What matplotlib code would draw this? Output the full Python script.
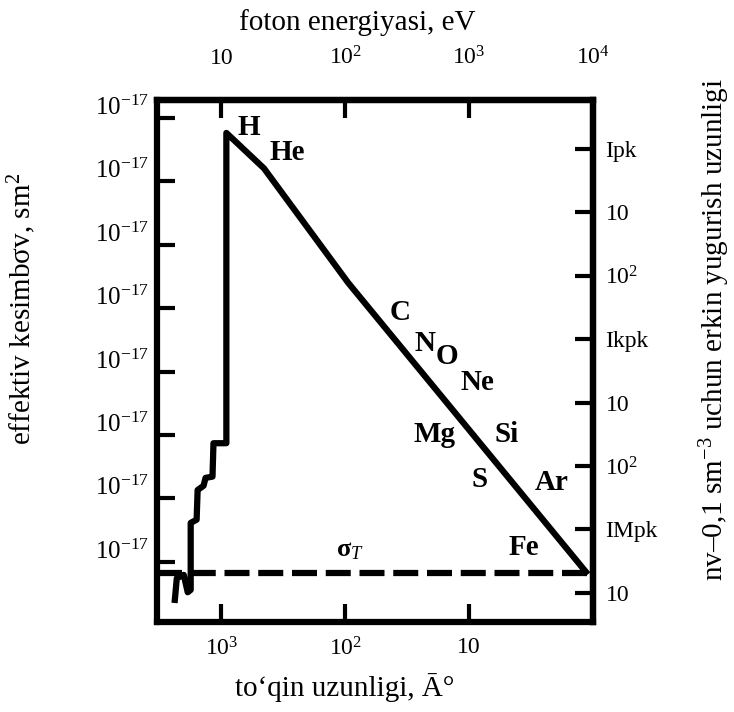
import numpy as np
import matplotlib
matplotlib.use("Agg")
import matplotlib.pyplot as plt
from matplotlib.ticker import FixedLocator, NullLocator
from matplotlib.transforms import ScaledTranslation

plt.rcParams['font.family'] = ['Liberation Serif', 'DejaVu Serif']
plt.rcParams['mathtext.fontset'] = 'custom'
plt.rcParams['mathtext.rm'] = 'Liberation Serif'
plt.rcParams['mathtext.it'] = 'Liberation Serif:italic'
plt.rcParams['mathtext.bf'] = 'Liberation Serif:bold'

# effective cross section vs wavelength
wavelength = [2377, 2291, 2014, 1871, 1770, 1770, 1585, 1556, 1393, 1343,
              1180, 1159, 912, 912, 453, 94.6, 1.14]
sigma = [2.5e-25, 5.5e-25, 6.2e-25, 3.3e-25, 3.6e-25, 4.1e-24, 4.6e-24,
         1.35e-23, 1.58e-23, 2.1e-23, 2.2e-23, 7.4e-23, 7.4e-23, 5.8e-18,
         1.6e-18, 2.5e-20, 6.9e-25]

sigma_T = 6.65e-25

elements = ['H', 'He', 'C', 'N', 'O', 'Ne', 'Mg', 'Si', 'S', 'Ar', 'Fe']
elem_lam = [597, 296, 36.3, 22.9, 15.0, 8.63, 19.1, 4.97, 8.17, 2.17, 3.63]
elem_sig = [7.0e-18, 2.9e-18, 8.4e-21, 2.8e-21, 1.7e-21, 6.6e-22, 1.0e-22,
            1.0e-22, 1.95e-23, 1.8e-23, 1.7e-24]

# axis ticks
left_ticks = [1e-17, 1e-18, 1e-19, 1e-20, 1e-21, 1e-22, 1e-23, 1e-24]
left_labels = ['10$^{-17}$'] * 8
bottom_ticks = [1e3, 1e2, 10]
bottom_labels = ['10$^3$', '10$^2$', '10']
top_ticks = [10, 1e2, 1e3, 1e4]
top_labels = ['10', '10$^2$', '10$^3$', '10$^4$']
right_ticks = [1, 10, 1e2, 1e3, 1e4, 1e5, 1e6, 1e7]
right_labels = ['Ipk', '10', '10$^2$', 'Ikpk', '10', '10$^2$', 'IMpk', '10']

PC = 3.086e18
N_DENS = 0.1

fig = plt.figure(figsize=(7.34, 7.12), dpi=100)
ax = fig.add_axes([0.2139, 0.1264, 0.594, 0.7332])

ax.plot(wavelength, sigma, color='black', lw=4.5, solid_joinstyle='round')
ax.axhline(sigma_T, color='black', lw=4.5, linestyle=(0, (4, 1.4)),
           dash_capstyle='butt')
ax.text(91, 1.5e-24, 'σ$_T$', fontsize=19, fontweight='bold',
        ha='center', va='center')

for name, lx, ly in zip(elements, elem_lam, elem_sig):
    ax.text(lx, ly, name, fontsize=21, fontweight='bold',
            ha='center', va='center')

ax.set_xscale('log')
ax.set_yscale('log')
ax.set_xlim(3311, 1.0)
ax.set_ylim(1.12e-25, 1.92e-17)

lw_spine = 4.5
for sp in ax.spines.values():
    sp.set_linewidth(lw_spine)

tick_kw = dict(direction='in', length=13, width=3, labelsize=17)
ax.tick_params(axis='both', which='major', top=False, right=False, **tick_kw)
ax.tick_params(axis='x', pad=11)
ax.tick_params(axis='y', pad=6, labelsize=18)
ax.xaxis.set_major_locator(FixedLocator(bottom_ticks))
ax.xaxis.set_minor_locator(NullLocator())
ax.set_xticklabels(bottom_labels)
ax.yaxis.set_major_locator(FixedLocator(left_ticks))
ax.yaxis.set_minor_locator(NullLocator())
ax.set_yticklabels(left_labels)
for lab in ax.get_yticklabels():
    lab.set_transform(lab.get_transform() + ScaledTranslation(0, 9 / 72, fig.dpi_scale_trans))

# top: photon energy
secx = ax.secondary_xaxis('top', functions=(lambda l: 1e4 / l, lambda e: 1e4 / e))
secx.xaxis.set_major_locator(FixedLocator(top_ticks))
secx.xaxis.set_minor_locator(NullLocator())
secx.set_xticklabels(top_labels)
secx.tick_params(axis='x', pad=22, **tick_kw)
secx.spines['top'].set_linewidth(lw_spine)

# right: mean free path for n = 0.1 cm^-3
secy = ax.secondary_yaxis('right', functions=(lambda s: 1.0 / (N_DENS * s * PC),
                                              lambda L: 1.0 / (N_DENS * L * PC)))
secy.yaxis.set_major_locator(FixedLocator(right_ticks))
secy.yaxis.set_minor_locator(NullLocator())
secy.set_yticklabels(right_labels)
secy.tick_params(axis='y', pad=9, **tick_kw)
secy.spines['right'].set_linewidth(lw_spine)

ax.set_xlabel('to‘qin uzunligi, Ā°', fontsize=21)
ax.xaxis.set_label_coords(0.431, -0.126)
ax.xaxis.label.set_va('center')
secx.set_xlabel('foton energiyasi, eV', fontsize=21)
secx.xaxis.set_label_coords(0.459, 1.149, transform=ax.transAxes)
secx.xaxis.label.set_va('center')
ax.set_ylabel('effektiv kesimbσv, sm$^2$', fontsize=21)
ax.yaxis.set_label_coords(-0.31, 0.60)
ax.yaxis.label.set_va('center')
secy.set_ylabel('nv–0,1 sm$^{-3}$ uchun erkin yugurish uzunligi', fontsize=21, rotation=90)
secy.yaxis.set_label_coords(1.28, 0.56, transform=ax.transAxes)
secy.yaxis.label.set_va('center')

fig.savefig('out.png', dpi=100)
